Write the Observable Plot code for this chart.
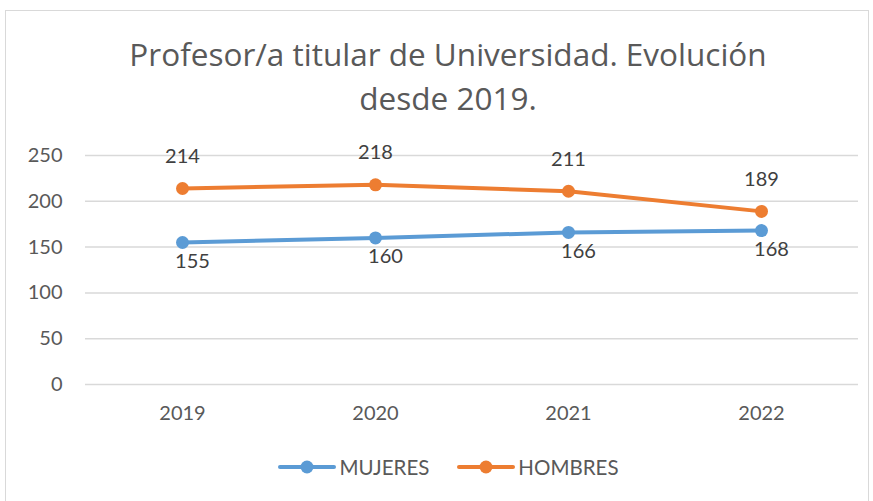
<!DOCTYPE html>
<html>
<head>
<meta charset="utf-8">
<script src="https://cdn.jsdelivr.net/npm/d3@7"></script>
<script src="https://cdn.jsdelivr.net/npm/@observablehq/plot@0.6"></script>
<style>
  body { margin: 0; background: #fff; }
  #wrap { position: relative; width: 873px; height: 501px; overflow: hidden; font-family: Lato, "Open Sans", sans-serif; color: #595959; }
  #border { position: absolute; left: 5px; top: 10px; width: 864px; height: 495px; border: 1px solid #d9d9d9; box-sizing: border-box; }
  #title { position: absolute; left: 0; top: 32px; width: 896px; text-align: center; font-family: "Open Sans", sans-serif; font-size: 31.5px; line-height: 44px; color: #595959; }
  #chart { position: absolute; left: 0; top: 0; }
  #legend { position: absolute; top: 455px; left: 12px; width: 873px; display: flex; justify-content: center; gap: 28px; font-size: 20.5px; }
  .item { display: flex; align-items: center; }
  .item svg { margin-right: 3px; }
</style>
</head>
<body>
<div id="wrap">
  <div id="border"></div>
  <div id="title">Profesor/a titular de Universidad. Evolución<br>desde 2019.</div>
  <div id="chart"></div>
  <div id="legend"></div>
</div>
<script>
const years = ["2019", "2020", "2021", "2022"];
const mujeres = [155, 160, 166, 168];
const hombres = [214, 218, 211, 189];
const yTicks = [0, 50, 100, 150, 200, 250];
const seriesNames = ["MUJERES", "HOMBRES"];
const seriesColors = ["#5B9BD5", "#ED7D31"];

const data = [];
years.forEach((y, i) => {
  data.push({year: y, value: mujeres[i], serie: "MUJERES"});
  data.push({year: y, value: hombres[i], serie: "HOMBRES"});
});
const dm = data.filter(d => d.serie === "MUJERES");
const dh = data.filter(d => d.serie === "HOMBRES");

const plot = Plot.plot({
  width: 873,
  height: 501,
  marginLeft: 85,
  marginRight: 15,
  marginTop: 155,
  marginBottom: 117,
  style: { background: "transparent", fontFamily: "Lato, 'Open Sans', sans-serif", fontSize: "20px", color: "#595959" },
  x: { type: "point", domain: years, padding: 0.5, label: null },
  y: { domain: [0, 250], ticks: yTicks, label: null },
  color: { domain: seriesNames, range: seriesColors },
  marks: [
    Plot.gridY(yTicks, { stroke: "#d9d9d9", strokeOpacity: 1, strokeWidth: 1.5 }),
    Plot.axisY(yTicks, { tickSize: 0, tickPadding: 23, fontSize: 20, fill: "#595959" }),
    Plot.axisX(years, { tickSize: 0, tickPadding: 21, fontSize: 20, fill: "#595959" }),
    Plot.line(data, { x: "year", y: "value", z: "serie", stroke: "serie", strokeWidth: 4, strokeLinecap: "round" }),
    Plot.dot(data, { x: "year", y: "value", fill: "serie", r: 6.5 }),
    Plot.text(dh, { x: "year", y: "value", text: d => String(d.value), dy: -32, fontSize: 20, fill: "#404040" }),
    Plot.text(dm, { x: "year", y: "value", text: d => String(d.value), dy: 19, dx: 10, fontSize: 20, fill: "#404040" })
  ]
});
document.getElementById("chart").appendChild(plot);

const legend = document.getElementById("legend");
seriesNames.forEach((name, i) => {
  const item = document.createElement("div");
  item.className = "item";
  item.innerHTML = `<svg width="58" height="16"><line x1="2" y1="8" x2="56" y2="8" stroke="${seriesColors[i]}" stroke-width="4" stroke-linecap="round"/><circle cx="29" cy="8" r="6.5" fill="${seriesColors[i]}"/></svg><span>${name}</span>`;
  legend.appendChild(item);
});
</script>
</body>
</html>
